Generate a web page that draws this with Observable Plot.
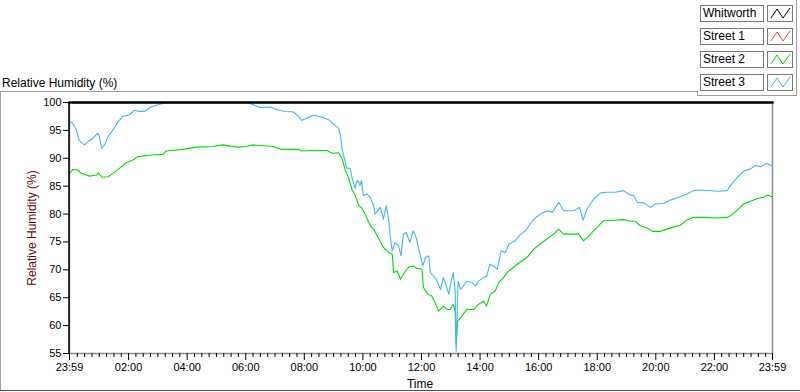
<!DOCTYPE html>
<html><head><meta charset="utf-8">
<script src="https://cdn.jsdelivr.net/npm/d3@7"></script>
<script src="https://cdn.jsdelivr.net/npm/@observablehq/plot@0.6"></script>
<style>
body{margin:0;background:#fff;}
#wrap{position:relative;width:800px;height:392px;overflow:hidden;font-family:"Liberation Sans",Arial,sans-serif;color:#000;}
#wrap svg{position:absolute;left:0;top:0;}
.abs{position:absolute;white-space:nowrap;}
.ln{position:absolute;background:#a0a0a0;}
.lg{position:absolute;box-sizing:border-box;border:1px solid #7a7a7a;background:#fff;font-size:12px;line-height:14px;padding-left:2px;}
.ic{position:absolute;box-sizing:border-box;border:1px solid #7a7a7a;background:#fff;}
</style></head><body><div id="wrap"></div>
<script>
// ---- data (minutes after the 23:59 start, value in %RH) ----
const seriesNames = ["Whitworth", "Street 1", "Street 2", "Street 3"];
const seriesColors = ["#000000", "#ff4040", "#00dd00", "#40b8f0"];

const whitworthMin = [0, 1440];
const whitworthVal = [100, 100];

const street1Min = [];
const street1Val = [];

const street2Min = [0,7,17,24,41,55,59,67,79,89,102,116,130,140,167,191,198,232,260,294,314,342,362,377,418,432,469,476,500,527,538,551,558,565,572,579,585,589,592,599,606,613,618,623,634,643,654,661,664,671,678,688,695,705,710,722,725,735,742,749,756,766,773,780,786,790,792,795,804,814,828,838,848,854,862,872,879,889,896,917,937,951,968,982,992,1002,1012,1026,1043,1053,1064,1077,1094,1115,1135,1149,1159,1169,1183,1194,1211,1224,1238,1251,1266,1278,1306,1327,1347,1354,1368,1381,1395,1409,1422,1429,1440];
const street2Val = [87.3,88.0,87.9,87.3,86.8,87.0,87.4,86.6,86.7,87.3,88.2,89.2,89.7,90.3,90.6,90.7,91.3,91.6,92.0,92.1,92.4,92.0,92.1,92.4,92.1,91.6,91.6,91.3,91.4,91.4,90.9,91.0,90.0,87.9,86.4,84.3,83.4,82.4,81.6,81.0,79.9,78.5,77.7,77.3,75.5,74.0,73.1,72.8,69.5,69.8,68.3,69.8,70.5,70.7,70.3,70.1,66.8,65.6,65.3,64.1,62.6,63.5,62.9,62.9,63.8,62.6,56.6,60.8,61.7,62.9,62.9,63.8,64.4,63.5,65.6,66.2,67.7,68.6,69.5,71.0,72.2,73.7,74.9,75.8,76.4,77.3,76.4,76.4,76.4,75.2,76.1,77.3,78.8,78.9,79.0,78.7,78.7,77.9,77.5,76.9,76.9,77.3,77.7,78.0,79.0,79.4,79.4,79.3,79.4,79.7,80.7,81.8,82.3,82.8,83.0,83.4,83.1];

const street3Min = [0,5,10,14,19,24,31,38,48,58,61,66,72,79,89,99,109,123,133,143,154,167,181,195,202,329,331,333,362,367,391,411,425,442,459,469,476,487,500,517,531,541,551,555,558,563,568,575,579,585,589,592,595,598,602,609,616,623,626,637,643,649,654,657,661,667,674,679,684,690,697,704,710,717,724,729,736,739,746,753,760,766,773,777,782,786,790,792,796,801,807,814,825,831,838,848,855,861,869,876,884,893,900,913,924,934,941,951,965,978,989,1002,1012,1023,1033,1045,1052,1060,1074,1088,1101,1118,1135,1146,1156,1163,1176,1190,1200,1217,1231,1251,1265,1278,1293,1327,1347,1354,1368,1381,1395,1405,1415,1429,1435,1440];
const street3Val = [96.5,96.4,95.7,95.2,93.3,92.9,92.4,93.0,93.6,94.5,93.9,91.8,92.4,93.9,95.1,96.5,97.5,97.8,98.6,98.4,98.4,99.2,99.6,99.9,100.5,100.5,99.9,100.5,100.5,99.9,99.1,99.2,98.7,98.4,98.3,97.5,96.8,97.2,97.7,97.4,96.9,96.1,95.4,94.2,91.8,90.0,88.2,88.2,86.4,84.6,86.0,85.8,85.1,86.0,83.3,83.6,83.0,81.5,80.0,81.2,79.1,81.5,78.8,76.1,73.4,74.9,74.3,72.5,76.4,76.7,74.9,77.0,75.8,73.1,70.7,72.2,72.5,69.5,68.9,68.0,66.5,68.6,66.8,65.6,68.0,69.5,66.2,55.4,68.0,66.5,67.1,68.0,67.7,67.1,68.0,68.6,68.9,71.0,70.7,70.1,73.4,73.1,74.6,75.2,76.4,77.0,77.9,79.1,80.0,80.6,80.3,82.1,80.6,80.6,80.6,81.2,78.9,80.9,82.7,83.8,83.9,83.9,84.2,83.5,83.3,82.1,82.0,81.2,81.8,81.9,82.5,83.1,83.6,84.2,84.3,84.1,84.2,85.1,86.6,87.7,88.1,88.7,88.5,89.1,88.7,88.8];

const yTicks = [55, 60, 65, 70, 75, 80, 85, 90, 95, 100];
const xTickLabels = ["23:59","02:00","04:00","06:00","08:00","10:00","12:00","14:00","16:00","18:00","20:00","22:00","23:59"];

// ---- build ----
const start = Date.UTC(2000, 0, 1, 23, 59);
const toDate = m => new Date(start + m * 60000);
const xTickDates = xTickLabels.map((s, i) => {
  if (i === 0) return new Date(start);
  const [h, mm] = s.split(":").map(Number);
  return new Date(Date.UTC(2000, 0, 2, h, mm));
});
const minorTicks = d3.utcMinute.every(15).range(new Date(Date.UTC(2000,0,2,0,0)), new Date(Date.UTC(2000,0,2,23,59)))
  .filter(d => d.getUTCMinutes() !== 0 || d.getUTCHours() % 2 !== 0);

const mk = (mins, vals) => mins.map((m, i) => ({t: toDate(m), v: vals[i]}));
const s2 = mk(street2Min, street2Val);
const s3 = mk(street3Min, street3Val);
const s1 = mk(street1Min, street1Val);
const wh = mk(whitworthMin, whitworthVal);

const fmt = d3.utcFormat("%H:%M");

const chart = Plot.plot({
  width: 800, height: 392,
  marginLeft: 69, marginRight: 28, marginTop: 102, marginBottom: 39,
  style: {fontFamily: '"Liberation Sans", Arial, sans-serif', fontSize: "11px", color: "#000", background: "transparent", overflow: "visible"},
  x: {type: "utc", domain: [new Date(start), new Date(start + 1440 * 60000)]},
  y: {domain: [55, 100]},
  marks: [
    Plot.frame({stroke: "#8c8c8c", strokeWidth: 1.5}),
    Plot.line(s1, {x: "t", y: "v", stroke: seriesColors[1], strokeWidth: 1.1, clip: true}),
    Plot.line(s2, {x: "t", y: "v", stroke: seriesColors[2], strokeWidth: 1.1, clip: true}),
    Plot.line(s3, {x: "t", y: "v", stroke: seriesColors[3], strokeWidth: 1.1, clip: true}),
    Plot.line(wh, {x: "t", y: "v", stroke: seriesColors[0], strokeWidth: 2.6}),
    Plot.ruleX([new Date(start)], {stroke: "#000", strokeWidth: 1.5, dx: -0.5}),
    Plot.axisY(yTicks, {anchor: "left", tickSize: 6, tickPadding: 2, label: null, fontSize: 11, tickFormat: d => String(d)}),
    Plot.axisX(xTickDates, {anchor: "bottom", tickSize: 7, tickPadding: 3, label: null, fontSize: 11, tickFormat: fmt, strokeWidth: 1}),
    Plot.axisX(minorTicks, {anchor: "bottom", tickSize: 4, label: null, text: null, strokeWidth: 1})
  ]
});

const wrap = document.getElementById("wrap");
wrap.appendChild(chart);

function add(html) { wrap.insertAdjacentHTML("beforeend", html); }
// frame lines
add('<div class="ln" style="left:0;top:91px;width:697px;height:1px"></div>');
add('<div class="ln" style="left:0;top:91px;width:1px;height:300px"></div>');
add('<div class="ln" style="left:0;top:390px;width:800px;height:1px;background:#505050"></div>');
add('<div class="ln" style="left:697px;top:91px;width:1px;height:5px"></div>');
add('<div class="ln" style="left:697px;top:95px;width:100px;height:1px"></div>');
add('<div class="ln" style="left:796px;top:0;width:1px;height:96px"></div>');
// texts
add('<div class="abs" style="left:2px;top:76px;font-size:12px;line-height:14px">Relative Humidity (%)</div>');
add('<div class="abs" style="left:32px;top:228px;font-size:12px;line-height:14px;color:#5a0a0a;transform:translate(-50%,-50%) rotate(-90deg)">Relative Humidity (%)</div>');
add('<div class="abs" style="left:420px;top:377px;font-size:12px;line-height:14px;transform:translateX(-50%)">Time</div>');
// legend
const rowTops = [5, 28, 51, 74];
seriesNames.forEach((n, i) => {
  add(`<div class="lg" style="left:700px;top:${rowTops[i]}px;width:64px;height:17px">${n}</div>`);
  add(`<div class="ic" style="left:767px;top:${rowTops[i]}px;width:26px;height:17px"><svg width="24" height="15" style="position:absolute;left:0;top:0"><polyline points="3,12 9,3 15,12 22,2" fill="none" stroke="${seriesColors[i]}" stroke-width="1"/></svg></div>`);
});
</script>
</body></html>
